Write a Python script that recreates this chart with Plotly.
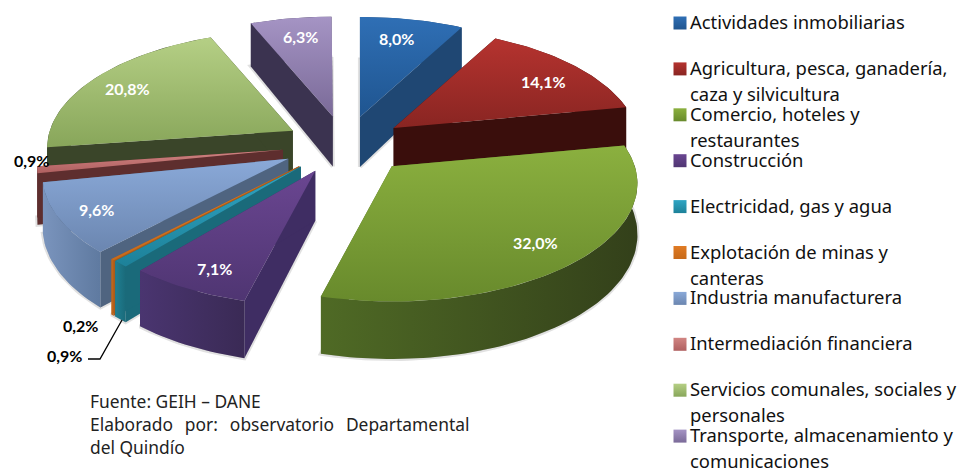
import math
import plotly.graph_objects as go

categories = ["Actividades inmobiliarias", "Agricultura, pesca, ganadería, caza y silvicultura",
              "Comercio, hoteles y restaurantes", "Construcción", "Electricidad, gas y agua",
              "Explotación de minas y canteras", "Industria manufacturera", "Intermediación financiera",
              "Servicios comunales, sociales y personales", "Transporte, almacenamiento y comunicaciones"]
values = [8.0, 14.1, 32.0, 7.1, 0.9, 0.2, 9.6, 0.9, 20.8, 6.3]
legend_lines = [["Actividades inmobiliarias"], ["Agricultura, pesca, ganadería,", "caza y silvicultura"],
                ["Comercio, hoteles y", "restaurantes"], ["Construcción"], ["Electricidad, gas y agua"],
                ["Explotación de minas y", "canteras"], ["Industria manufacturera"], ["Intermediación financiera"],
                ["Servicios comunales, sociales y", "personales"], ["Transporte, almacenamiento y", "comunicaciones"]]
top_colors = [("#2f6fb5", "#1f5590"), ("#b5332f", "#892522"), ("#8bb03f", "#688a2c"), ("#6a4691", "#4f3572"),
              ("#2fa5c4", "#1d8199"), ("#e07b24", "#c76a1a"), ("#8aa9d8", "#6b86b0"), ("#d18583", "#b06060"),
              ("#b5cf85", "#88a65a"), ("#a594c4", "#7a6a98")]
radial_colors = ["#1f4773", "#3a0e0c", "#4f6a25", "#3f2d63", "#1a6a7a", "#a85c1c", "#4f6480", "#5e2e2e", "#3a4529", "#3b3350"]
outer_colors = [("#1f4773", "#1f4773"), ("#3a0e0c", "#3a0e0c"), ("#4f6a25", "#33401a"), ("#4a3570", "#3a2a55"),
                ("#1f7f92", "#1a6a7a"), ("#c56a1e", "#b35f1a"), ("#7a94bd", "#5f7aa0"), ("#6e3535", "#5e2e2e"),
                ("#3a4529", "#3a4529"), ("#3b3350", "#3b3350")]
label_text = ["8,0%", "14,1%", "32,0%", "7,1%", "0,9%", "0,2%", "9,6%", "0,9%", "20,8%", "6,3%"]
label_color = ["white", "white", "white", "white", "black", "black", "white", "black", "white", "white"]
label_pos = [(396, 38), (543, 81), (535, 242), (214, 268), (64, 355), (80, 325), (96, 209), (31, 160), (127, 88), (300, 36)]
pull_nudge = [0, 0, 6, -2, -4, -4, -4, -3, 0, 0]

CX, CY, PULL_X, PULL_Y = 345, 145, 60, 29
RX, RY, PERSP, DEPTH = 243, 117.6, 0.15, 50
FONT_LABEL = "Lato"
FONT_TEXT = "Noto Sans"


def rim(apex, t):
    s = 1 - PERSP * math.cos(t)
    return apex[0] + RX * s * math.sin(t), apex[1] - RY * s * math.cos(t), DEPTH * s


def wedge(start, end, nudge):
    a0, a1 = start / 100 * 2 * math.pi, end / 100 * 2 * math.pi
    mid = (a0 + a1) / 2
    apex = (CX + PULL_X * math.sin(mid) + nudge, CY - PULL_Y * math.cos(mid))
    n = max(2, int((a1 - a0) / math.radians(1.5)))
    pts = [rim(apex, a0 + (a1 - a0) * i / n) for i in range(n + 1)]
    return mid, apex, pts


fig = go.Figure()


def poly(xs, ys, name, color=None, grad=None, line=None):
    kw = dict(x=list(xs), y=list(ys), mode="lines", fill="toself", name=name, showlegend=False)
    kw["line"] = dict(width=line[0], color=line[1]) if line else dict(width=0)
    if grad:
        kw["fillgradient"] = dict(type=grad[0], colorscale=[[0, grad[1]], [1, grad[2]]])
        kw["fillcolor"] = grad[1]
    else:
        kw["fillcolor"] = color
    fig.add_trace(go.Scatter(hoverinfo="skip", **kw))


cum = 0
slices = []
for i, v in enumerate(values):
    slices.append((i, cum, cum + v))
    cum += v

order = sorted(slices, key=lambda s: -math.cos((s[1] + s[2]) / 100 * math.pi))
for i, a, b in order:
    mid, apex, pts = wedge(a, b, pull_nudge[i])
    name = categories[i]
    X = [p[0] for p in pts]
    Y = [p[1] for p in pts]
    Yb = [p[1] + p[2] for p in pts]
    # soft shadow round the extruded body
    poly([apex[0]] + X + [apex[0]], [apex[1] + DEPTH] + Yb + [apex[1] + DEPTH], name,
         color="rgba(90,90,90,0.25)", line=(4, "rgba(90,90,90,0.18)"))
    # radial walls
    for p in (pts[0], pts[-1]):
        poly([apex[0], p[0], p[0], apex[0]], [apex[1], p[1], p[1] + p[2], apex[1] + DEPTH], name, color=radial_colors[i])
    # outer wall
    poly(X + X[::-1], Y + Yb[::-1], name, grad=("horizontal", outer_colors[i][0], outer_colors[i][1]))
    # top face
    poly([apex[0]] + X, [apex[1]] + Y, name, grad=("vertical", top_colors[i][1], top_colors[i][0]))

# leader line of the 0,9 % label
fig.add_trace(go.Scatter(x=[122, 100, 88], y=[320, 359, 359], mode="lines", showlegend=False, hoverinfo="skip",
                         line=dict(color="black", width=1.3)))

# legend drawn by hand: entries sit on a fixed pitch, whatever their line count
LEG_Y0, LEG_PITCH, LEG_LINE, SW_X, TXT_X = 23, 45.9, 26, 680, 688
annotations = []
for i, lines in enumerate(legend_lines):
    y0 = LEG_Y0 + i * LEG_PITCH
    fig.add_trace(go.Scatter(x=[SW_X], y=[y0], mode="markers", name=categories[i], showlegend=False, hoverinfo="skip",
                             marker=dict(symbol="square", size=13, color=top_colors[i][0], line=dict(width=0),
                                         gradient=dict(type="vertical", color=top_colors[i][1]))))
    for j, ln in enumerate(lines):
        annotations.append(dict(x=TXT_X, y=y0 + j * LEG_LINE - 1.5, text=ln, xanchor="left", yanchor="middle", showarrow=False,
                                font=dict(family=FONT_TEXT, size=18.4, color="#111111"), xref="x", yref="y"))

for txt, col, (x, y) in zip(label_text, label_color, label_pos):
    annotations.append(dict(x=x, y=y, text="<b>%s</b>" % txt, showarrow=False, xanchor="center", yanchor="middle",
                            font=dict(family=FONT_LABEL, size=16, color=col), xref="x", yref="y"))

GAP = "\u00a0\u00a0\u2009"
footer = ["Fuente: GEIH – DANE",
          "Elaborado" + GAP + "por:" + GAP + "observatorio" + GAP + "Departamental",
          "del Quindío"]
for j, ln in enumerate(footer):
    annotations.append(dict(x=88, y=401 + j * 23, text=ln, showarrow=False, xanchor="left", yanchor="middle",
                            font=dict(family=FONT_TEXT, size=17.4, color="#222222"), xref="x", yref="y"))

fig.update_layout(width=974, height=470, margin=dict(l=0, r=0, t=0, b=0), paper_bgcolor="white", plot_bgcolor="white",
                  showlegend=False, annotations=annotations,
                  xaxis=dict(range=[0, 974], visible=False, fixedrange=True),
                  yaxis=dict(range=[470, 0], visible=False, fixedrange=True))
fig.write_html("out.html", config={"displayModeBar": False},
               post_script="document.body.style.margin='0';document.body.style.overflow='hidden';")
